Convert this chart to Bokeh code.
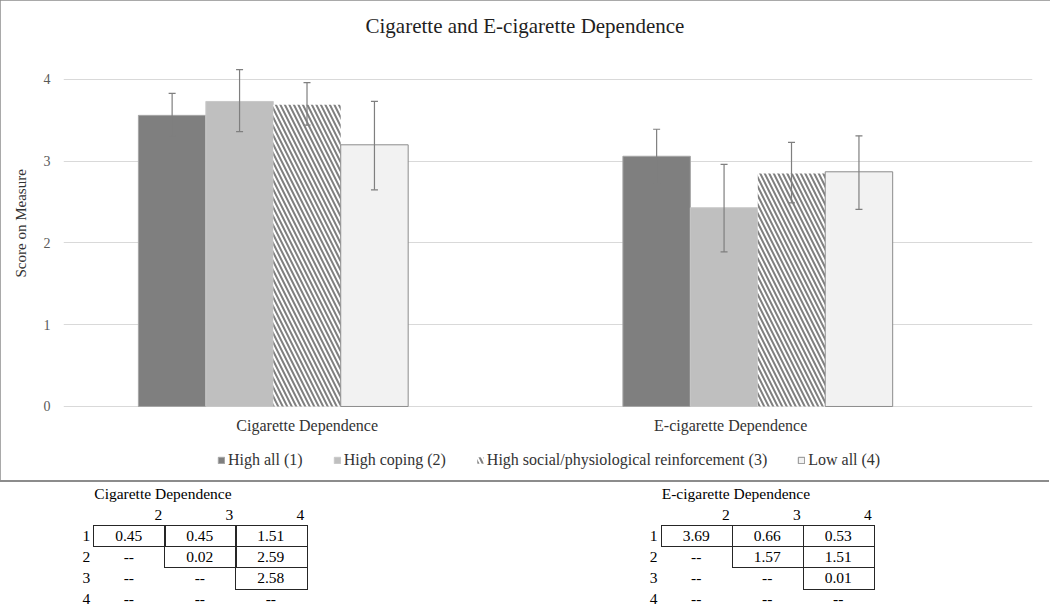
from bokeh.plotting import figure
from bokeh.models import (ColumnDataSource, Range1d, FixedTicker, Whisker, TeeHead, Legend, LegendItem, Div, Title)
from bokeh.layouts import column
from bokeh.core.properties import value
from bokeh.embed import file_html
from bokeh.resources import INLINE

# ---------------- data ----------------
categories = ["Cigarette Dependence", "E-cigarette Dependence"]
series = ["High all (1)", "High coping (2)",
          "High social/physiological reinforcement (3)", "Low all (4)"]

cig_means = [3.56, 3.73, 3.69, 3.20]
cig_lower = [3.31, 3.36, 3.44, 2.65]
cig_upper = [3.83, 4.12, 3.96, 3.73]

ecig_means = [3.06, 2.43, 2.85, 2.87]
ecig_lower = [2.73, 1.89, 2.49, 2.41]
ecig_upper = [3.39, 2.96, 3.23, 3.31]

y_ticks = [0, 1, 2, 3, 4]

table_col_labels = ["2", "3", "4"]
table_row_labels = ["1", "2", "3", "4"]
cig_table = [["0.45", "0.45", "1.51"],
             ["--", "0.02", "2.59"],
             ["--", "--", "2.58"],
             ["--", "--", "--"]]
ecig_table = [["3.69", "0.66", "0.53"],
              ["--", "1.57", "1.51"],
              ["--", "--", "0.01"],
              ["--", "--", "--"]]

# ---------------- styles ----------------
FONT = "Liberation Serif"
fills = ["#7f7f7f", "#bfbfbf", "#ffffff", "#f2f2f2"]
lines = ["#a6a6a6", "#c8c8c8", None, "#8c8c8c"]
hatches = [None, None, "left_diagonal_line", None]
BAR_W = 0.1392
CAT_LABEL_Y = -0.232
CAT_LABEL_DX = [0.070, -0.056]
BORDER = "#8c8c8c"

W = 1050
HA = 480
HB = 605 - HA

p = figure(width=W, height=HA, output_backend="svg", toolbar_location=None,
           x_range=Range1d(-0.433, 1.567), y_range=Range1d(-0.8807, 4.5),
           x_axis_type=None,
           min_border_left=62, min_border_right=18, min_border_top=38,
           min_border_bottom=2,
           styles={"outline": f"1.5px solid {BORDER}", "outline-offset": "-1.5px"})
p.outline_line_color = None
p.background_fill_color = "white"
p.border_fill_color = "white"

p.title.text = "Cigarette and E-cigarette Dependence"
p.title.align = "left"
p.title.offset = 302
p.title.text_font = FONT
p.title.text_font_size = "21px"
p.title.text_font_style = "normal"
p.title.text_color = "#1f1f1f"
p.title.standoff = 1

renderers = []
for i, name in enumerate(series):
    off = (i - 1.5) * BAR_W
    src = ColumnDataSource(dict(
        x=[k + off for k in range(len(categories))],
        top=[cig_means[i], ecig_means[i]],
        lower=[cig_lower[i], ecig_lower[i]],
        upper=[cig_upper[i], ecig_upper[i]],
    ))
    kw = dict(x="x", top="top", bottom=0, width=BAR_W, source=src,
              fill_color=fills[i], line_color=lines[i], line_width=1)
    if hatches[i]:
        kw.update(hatch_pattern=hatches[i], hatch_color="#7f7f7f",
                  hatch_weight=2, hatch_scale=9)
    r = p.vbar(**kw)
    renderers.append(r)
    wh = Whisker(source=src, base="x", upper="upper", lower="lower",
                 dimension="height", line_color="#7f7f7f", line_width=1.2,
                 upper_head=TeeHead(size=7, line_color="#7f7f7f", line_width=1.2),
                 lower_head=TeeHead(size=7, line_color="#7f7f7f", line_width=1.2),
                 level="overlay")
    p.add_layout(wh)

# category labels under the bars
p.text(x=[k + d for k, d in zip(range(len(categories)), CAT_LABEL_DX)],
       y=[CAT_LABEL_Y] * len(categories), text=categories,
       text_font=value(FONT), text_font_size=value("16px"), text_color="#333333",
       text_align="center", text_baseline="middle")

# y axis
p.yaxis.ticker = FixedTicker(ticks=y_ticks)
p.ygrid.ticker = FixedTicker(ticks=y_ticks)
p.ygrid.grid_line_color = "#d9d9d9"
p.xgrid.grid_line_color = None
p.yaxis.axis_line_color = None
p.yaxis.major_tick_line_color = None
p.yaxis.minor_tick_line_color = None
p.yaxis.major_tick_out = 0
p.yaxis.major_label_standoff = 13
p.yaxis.major_label_text_font = FONT
p.yaxis.major_label_text_font_size = "14px"
p.yaxis.major_label_text_color = "#595959"

# y axis title, placed over the value part of the axis (0..4.5)
ytitle = Title(text="Score on Measure", align="left", offset=201, vertical_align="middle",
               standoff=22, text_font=FONT, text_font_size="15px",
               text_font_style="normal", text_color="#333333")
p.add_layout(ytitle, "left")

legend = Legend(items=[LegendItem(label=s, renderers=[r]) for s, r in zip(series, renderers)],
                orientation="horizontal", location=(154, 8),
                label_text_font=FONT, label_text_font_size="16px", label_text_color="#333333",
                glyph_width=8, glyph_height=8, label_standoff=3, spacing=30,
                padding=0, margin=0, label_height=20,
                border_line_color=None, background_fill_alpha=0)
p.add_layout(legend)

# ---------------- tables (HTML) ----------------
COL_W = 71.0
ROW_H = 21.1
ROW0 = 45.0


def table_html(left, name, rows):
    parts = []
    parts.append(f'<div style="position:absolute;left:{left + 1:.1f}px;top:4px;line-height:20px;white-space:nowrap">{name}</div>')
    for j, lab in enumerate(table_col_labels):
        parts.append(f'<div style="position:absolute;left:{left + j * COL_W:.1f}px;top:25px;width:{COL_W - 2:.1f}px;'
                     f'line-height:20px;text-align:right">{lab}</div>')
    for i, lab in enumerate(table_row_labels):
        parts.append(f'<div style="position:absolute;left:{left - 15:.1f}px;top:{ROW0 + i * ROW_H:.1f}px;width:16px;'
                     f'line-height:{ROW_H:.1f}px;text-align:center">{lab}</div>')
    for i, row in enumerate(rows):
        for j, v in enumerate(row):
            if v != "--":
                parts.append(f'<div style="position:absolute;box-sizing:border-box;left:{left + j * COL_W:.1f}px;'
                             f'top:{ROW0 + i * ROW_H:.1f}px;width:{COL_W + 1.3:.1f}px;height:{ROW_H + 1.3:.1f}px;'
                             f'border:1.3px solid #262626"></div>')
            parts.append(f'<div style="position:absolute;left:{left + j * COL_W + 4:.1f}px;'
                         f'top:{ROW0 + i * ROW_H:.1f}px;width:{COL_W - 8:.1f}px;'
                         f'line-height:{ROW_H:.1f}px;text-align:center">{v}</div>')
    return "".join(parts)


html = (f'<div style="position:relative;width:{W}px;height:{HB}px;overflow:hidden;'
        f'font-family:\'{FONT}\';font-size:15.5px;color:#000;background:#fff">'
        f'<div style="position:absolute;left:0;top:0;width:{W - 1}px;height:1.5px;background:{BORDER}"></div>'
        + table_html(93.3, categories[0], cig_table)
        + table_html(660.7, categories[1], ecig_table)
        + '</div>')

tables = Div(text=html, width=W, height=HB, margin=0)

layout = column(p, tables, spacing=0)
open("out.html", "w").write(file_html(layout, INLINE))
